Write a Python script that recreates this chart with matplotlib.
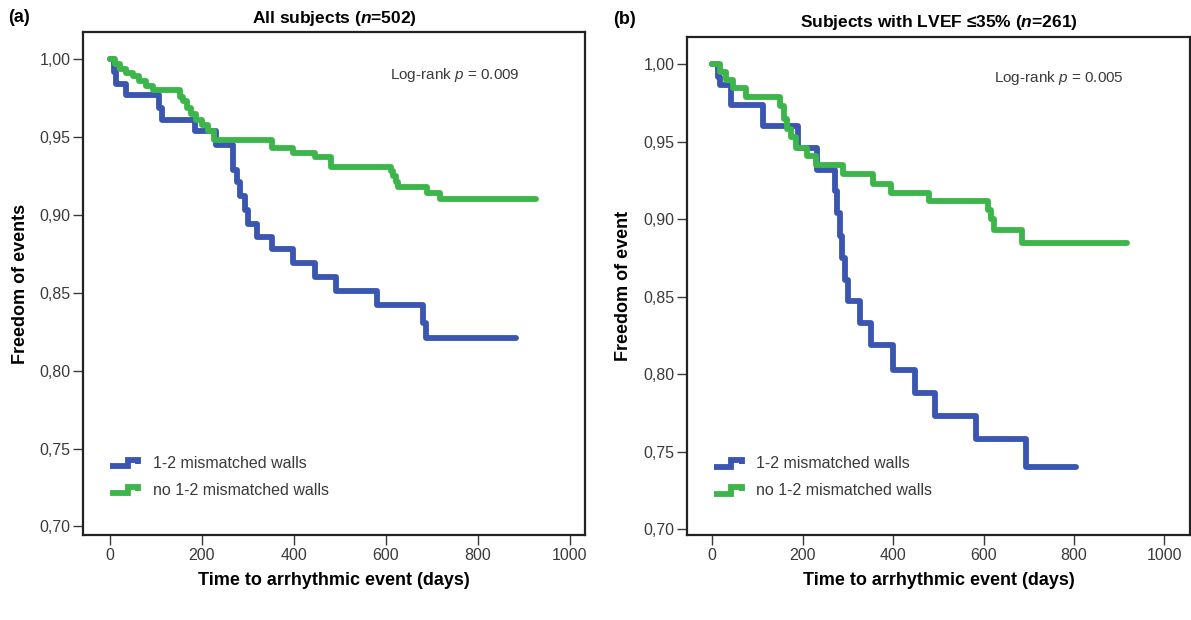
import numpy as np
import matplotlib
matplotlib.use("Agg")
import matplotlib.pyplot as plt
from matplotlib.lines import Line2D
from matplotlib.legend_handler import HandlerBase
from matplotlib.ticker import FuncFormatter

plt.rcParams["font.family"] = ["Liberation Sans", "DejaVu Sans"]
plt.rcParams["mathtext.fontset"] = "custom"
plt.rcParams["mathtext.rm"] = "Liberation Sans"
plt.rcParams["mathtext.it"] = "Liberation Sans:italic"
plt.rcParams["mathtext.bf"] = "Liberation Sans:bold"
plt.rcParams["mathtext.bfit"] = "Liberation Sans:bold:italic"

# Kaplan-Meier steps: event times (days) and survival after each step
# panel (a) all subjects
a_blue_t = [0, 9, 14, 36, 107, 115, 186, 232, 269, 277, 283, 294, 300, 321, 352, 398, 446, 492, 582, 682, 688, 883]
a_blue_s = [1.000, 0.992, 0.984, 0.977, 0.969, 0.961, 0.954, 0.945, 0.929, 0.921, 0.912, 0.903, 0.894,
            0.886, 0.878, 0.869, 0.860, 0.851, 0.842, 0.831, 0.821, 0.821]
a_green_t = [0, 12, 22, 35, 50, 65, 80, 95, 152, 160, 168, 177, 188, 200, 214, 226, 352, 398, 446,
             482, 611, 617, 622, 628, 690, 719, 927]
a_green_s = [1.000, 0.997, 0.994, 0.991, 0.989, 0.986, 0.983, 0.980, 0.976, 0.973, 0.969, 0.965, 0.961,
             0.958, 0.954, 0.948, 0.943, 0.940, 0.937, 0.931, 0.928, 0.925, 0.921, 0.918, 0.914, 0.910,
             0.910]

# panel (b) LVEF <= 35%
b_blue_t = [0, 13, 18, 41, 113, 190, 232, 272, 276, 282, 288, 294, 300, 326, 352, 400, 448, 493, 583, 693, 805]
b_blue_s = [1.000, 0.992, 0.987, 0.974, 0.960, 0.946, 0.932, 0.918, 0.904, 0.889, 0.875, 0.861, 0.847,
            0.833, 0.819, 0.803, 0.788, 0.773, 0.758, 0.740, 0.740]
b_green_t = [0, 18, 30, 47, 74, 151, 160, 166, 174, 186, 209, 229, 290, 356, 396, 480, 610, 617, 623, 686, 917]
b_green_s = [1.000, 0.995, 0.990, 0.985, 0.979, 0.973, 0.965, 0.958, 0.953, 0.946, 0.941, 0.935, 0.929,
             0.923, 0.917, 0.912, 0.906, 0.900, 0.893, 0.885, 0.885]

group_labels = ["1-2 mismatched walls", "no 1-2 mismatched walls"]
panel_titles = [r"All subjects ($\mathbfit{n}$=502)", r"Subjects with LVEF ≤35% ($\mathbfit{n}$=261)"]
panel_tags = ["(a)", "(b)"]
y_labels = ["Freedom of events", "Freedom of event"]
p_texts = [r"Log-rank $p$ = 0.009", r"Log-rank $p$ = 0.005"]
x_ticks = [0, 200, 400, 600, 800, 1000]
y_ticks = [0.70, 0.75, 0.80, 0.85, 0.90, 0.95, 1.00]

BLUE = "#3a56b0"
GREEN = "#3cb64a"


class StepHandler(HandlerBase):
    """Draws the little stair glyph used in the legend."""

    def create_artists(self, legend, orig_handle, xdescent, ydescent, width, height, fontsize, trans):
        xs = np.array([0.0, 0.62, 0.62, 1.0, 1.0]) * width - xdescent
        ys = np.array([0.15, 0.15, 0.75, 0.75, 0.35]) * height - ydescent
        line = Line2D(xs, ys, color=orig_handle.get_color(), lw=orig_handle.get_linewidth(),
                      solid_capstyle="butt", solid_joinstyle="miter")
        line.set_transform(trans)
        return [line]


fig = plt.figure(figsize=(11.91, 6.2), dpi=100)
ax_a = fig.add_axes([0.070, 0.137, 0.421, 0.811])
ax_b = fig.add_axes([0.577, 0.137, 0.422, 0.804])

panels = [
    (ax_a, a_blue_t, a_blue_s, a_green_t, a_green_s, (-57, 1033), (0.6945, 1.0174), (750, 0.990)),
    (ax_b, b_blue_t, b_blue_s, b_green_t, b_green_s, (-55, 1056), (0.6961, 1.018), (766, 0.9915)),
]

comma_fmt = FuncFormatter(lambda v, _: f"{v:.2f}".replace(".", ","))

for i, (ax, bt, bs, gt, gs, xlim, ylim, ptxt) in enumerate(panels):
    hb, = ax.step(bt, bs, where="post", color=BLUE, lw=4.2, solid_capstyle="round")
    hg, = ax.step(gt, gs, where="post", color=GREEN, lw=4.2, solid_capstyle="round")
    ax.set_xlim(*xlim)
    ax.set_ylim(*ylim)
    ax.set_xticks(x_ticks)
    ax.set_yticks(y_ticks)
    ax.yaxis.set_major_formatter(comma_fmt)
    ax.tick_params(axis="both", direction="out", length=7, width=1.0, labelsize=11.5,
                   labelcolor="#3a3a3a", color="#3a3a3a", pad=2)
    ax.tick_params(top=False, right=False)
    for sp in ax.spines.values():
        sp.set_linewidth(1.6)
        sp.set_color("#222222")
    ax.set_xlabel("Time to arrhythmic event (days)", fontsize=13, fontweight="bold", labelpad=7)
    ax.set_ylabel(y_labels[i], fontsize=13, fontweight="bold", labelpad=8)
    ax.set_title(panel_titles[i], fontsize=12.5, fontweight="bold", pad=7)
    ax.text(ptxt[0], ptxt[1], p_texts[i], ha="center", va="center", fontsize=11, color="#3a3a3a")
    leg = ax.legend([hb, hg], group_labels, loc="lower left", bbox_to_anchor=(0.025, 0.045),
                    frameon=False, fontsize=11.5, handler_map={Line2D: StepHandler()},
                    handlelength=1.75, handletextpad=0.9, labelspacing=0.75)
    for t in leg.get_texts():
        t.set_color("#3a3a3a")

fig.text(0.007, 0.972, "(a)", fontsize=13, fontweight="bold", va="center")
fig.text(0.515, 0.968, "(b)", fontsize=13, fontweight="bold", va="center")

fig.savefig("out.png", dpi=100)
